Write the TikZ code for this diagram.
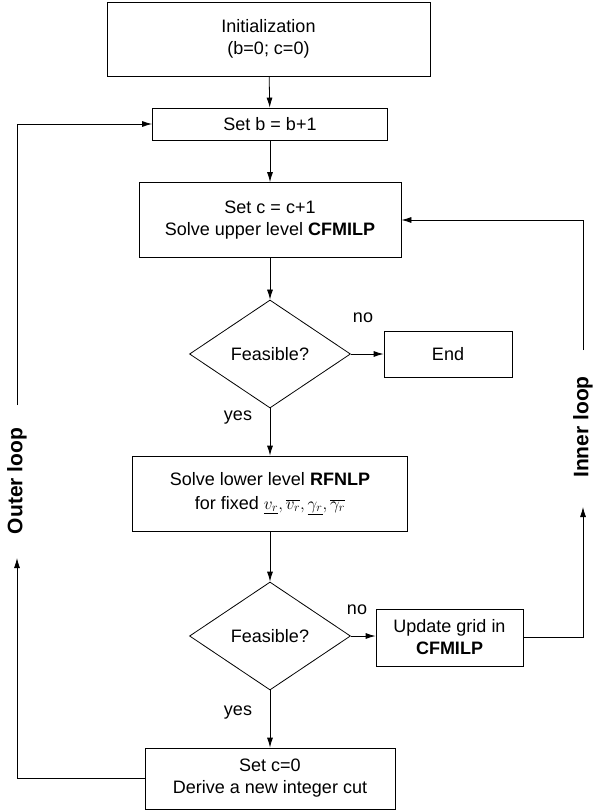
\documentclass[tikz,border=0pt]{standalone}
\usepackage{fontspec}
\setmainfont{Liberation Sans}
\usetikzlibrary{shapes.geometric, arrows.meta}

\begin{document}
\begin{tikzpicture}
        [x=1pt, y=-1pt, every node/.style={font=\fontsize{18}{22}\selectfont, align=center, inner sep=0},
         box/.style={draw, rectangle, line width=0.8pt},
         decide/.style={draw, diamond, aspect=1.5, line width=0.8pt, minimum width=161pt, minimum height=108pt},
         looptext/.style={rotate=90, font=\fontsize{21}{24}\selectfont\bfseries},
         every path/.style={line width=0.8pt},
         arr/.style={-{Latex[length=10pt, width=6pt]}}]

        \useasboundingbox (0, 0) rectangle (597, 810);

        \node[box, minimum width=323pt, minimum height=74pt] (init) at (268.5, 39) {Initialization\\(b=0; c=0)};
        \node[box, minimum width=235pt, minimum height=32pt] (setb) at (270, 124) {Set b = b+1};
        \node[box, minimum width=262pt, minimum height=75pt] (setc) at (270, 220) {Set c = c+1\\Solve upper level \textbf{CFMILP}};
        \node[decide] (feas1) at (270, 354) {Feasible?};
        \node[box, minimum width=128pt, minimum height=46pt] (stop) at (448, 354) {End};
        \node[box, minimum width=275pt, minimum height=75pt] (lower) at (270, 493.5) {Solve lower level \textbf{RFNLP}\\[2pt]for fixed $\underline{v_r}, \overline{v_r}, \underline{\gamma_r}, \overline{\gamma_r}$};
        \node[decide] (feas2) at (270, 636) {Feasible?};
        \node[box, minimum width=147pt, minimum height=57pt] (grid) at (449.5, 637.5) {Update grid in\\\textbf{CFMILP}};
        \node[box, minimum width=250pt, minimum height=61pt] (cut) at (270, 778.5) {Set c=0\\Derive a new integer cut};

        \node (no1) at (363, 318) {no};
        \node (yes1) at (238, 418) {yes};
        \node (no2) at (357, 610) {no};
        \node (yes2) at (238, 713) {yes};

        \node[looptext] (outer) at (17, 481) {Outer loop};
        \node[looptext] (inner) at (583, 427) {Inner loop};

        \coordinate (otop) at (17, 405);
        \coordinate (obot) at (17, 558);
        \coordinate (itop) at (583, 350);
        \coordinate (ibot) at (583, 507);

        \draw[arr] (init) -- (setb);
        \draw[arr] (setb) -- (setc);
        \draw[arr] (setc) -- (feas1);
        \draw[arr] (feas1) -- (stop);
        \draw[arr] (feas1) -- (lower);
        \draw[arr] (lower) -- (feas2);
        \draw[arr] (feas2.east) -- (grid.west |- feas2.east);
        \draw[arr] (feas2) -- (cut);
        \draw[arr] (grid.east) -| (ibot);
        \draw[arr] (itop) |- (setc.east);
        \draw[arr] (cut.west) -| (obot);
        \draw[arr] (otop) |- (setb.west);
      \end{tikzpicture}
\end{document}
